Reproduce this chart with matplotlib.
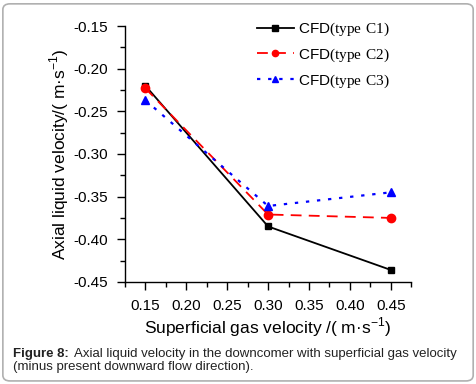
import matplotlib.pyplot as plt
from matplotlib.patches import FancyBboxPatch
from matplotlib.ticker import MultipleLocator

plt.rcParams['font.family'] = ['Liberation Sans', 'DejaVu Sans']
plt.rcParams['mathtext.fontset'] = 'custom'
plt.rcParams['mathtext.rm'] = 'Liberation Serif'
plt.rcParams['mathtext.sf'] = 'Liberation Sans'

# Data
gas_velocity = [0.15, 0.30, 0.45]
c1 = [-0.220, -0.385, -0.436]
c2 = [-0.223, -0.371, -0.375]
c3 = [-0.237, -0.361, -0.345]
labels = ['CFD$\\mathrm{(type\\ C1)}$', 'CFD$\\mathrm{(type\\ C2)}$', 'CFD$\\mathrm{(type\\ C3)}$']

fig = plt.figure(figsize=(4.77, 3.84), dpi=100)

# rounded grey frame around the whole figure
frame = FancyBboxPatch((0.006, 0.008), 0.986, 0.982, boxstyle='round,pad=0,rounding_size=0.015',
                       transform=fig.transFigure, facecolor='white', edgecolor='#b0b0b0',
                       linewidth=1.2, zorder=-10)
fig.patches.append(frame)

ax = fig.add_axes([0.262, 0.266, 0.600, 0.666])
ax.patch.set_alpha(0)

ax.plot(gas_velocity, c1, color='black', linestyle='-', linewidth=1.3,
        marker='s', markersize=5, label=labels[0])
ax.plot(gas_velocity, c2, color='red', linestyle=(0, (6, 4)), linewidth=1.3,
        marker='o', markersize=6, label=labels[1])
ax.plot(gas_velocity, c3, color='blue', linestyle=(0, (1.5, 3.5)), linewidth=1.6,
        marker='^', markersize=6, label=labels[2])

ax.set_xlim(0.125, 0.475)
ax.set_ylim(-0.45, -0.15)
ax.xaxis.set_minor_locator(MultipleLocator(0.025))
ax.yaxis.set_minor_locator(MultipleLocator(0.025))
ax.set_xticks([0.15, 0.20, 0.25, 0.30, 0.35, 0.40, 0.45])
ax.set_xticklabels(['0.15', '0.20', '0.25', '0.30', '0.35', '0.40', '0.45'])
ax.set_yticks([-0.45, -0.40, -0.35, -0.30, -0.25, -0.20, -0.15])
ax.set_yticklabels(['-0.45', '-0.40', '-0.35', '-0.30', '-0.25', '-0.20', '-0.15'])

for side in ['top', 'right']:
    ax.spines[side].set_visible(False)
for side in ['left', 'bottom']:
    ax.spines[side].set_linewidth(1.0)

ax.tick_params(which='major', direction='out', length=6, width=1.0, labelsize=11, pad=6)
ax.tick_params(which='minor', direction='out', length=3.5, width=1.0)

ax.set_xlabel('Superficial gas velocity /( m\u00b7s$^{\\mathsf{-1}}$)', fontsize=12.5, labelpad=2)
ax.set_ylabel('Axial liquid velocity/( m\u00b7s$^{\\mathsf{-1}}$)', fontsize=12.5, labelpad=2)

ax.legend(loc='upper left', bbox_to_anchor=(0.44, 1.045), frameon=False, fontsize=11,
          handlelength=2.4, handletextpad=0.3, labelspacing=0.55, borderaxespad=0,
          markerscale=0.75)

# caption
fig.text(0.028, 0.070, 'Figure 8:', fontsize=9.5, fontweight='bold', color='#222222', va='baseline')
fig.text(0.155, 0.070, 'Axial liquid velocity in the downcomer with superficial gas velocity',
         fontsize=9.5, color='#222222', va='baseline')
fig.text(0.028, 0.037, '(minus present downward flow direction).', fontsize=9.5,
         color='#222222', va='baseline')

fig.savefig('out.png', dpi=100)
